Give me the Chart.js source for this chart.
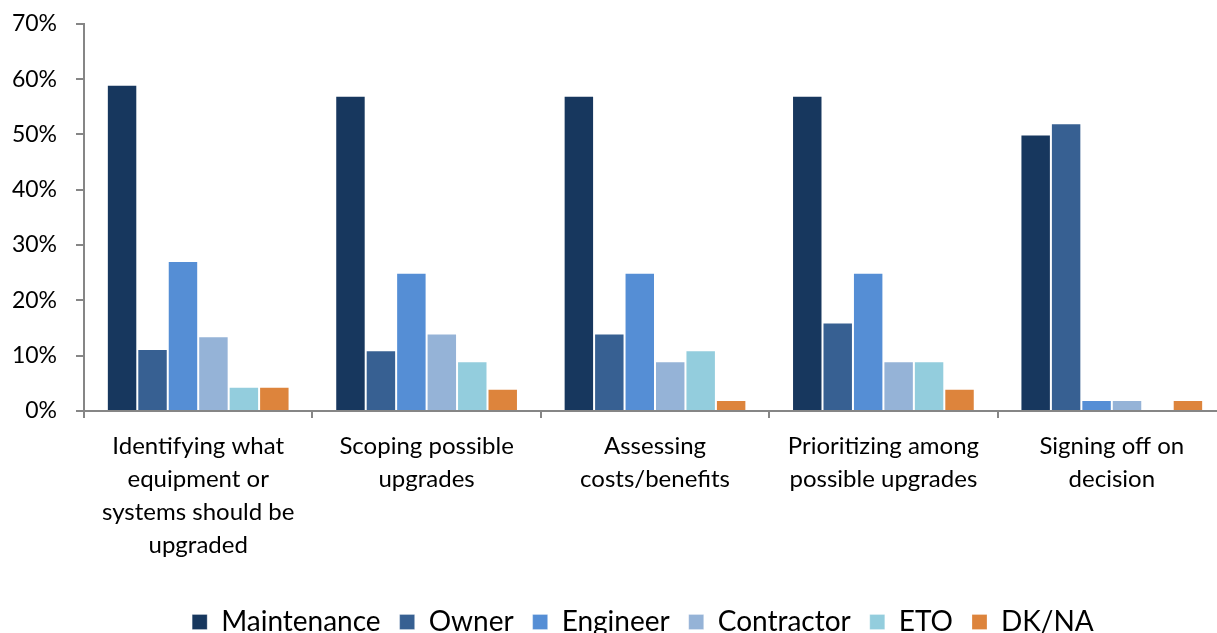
<!DOCTYPE html>
<html>
<head>
<meta charset="utf-8">
<script src="https://cdn.jsdelivr.net/npm/chart.js"></script>
<style>
  html, body { margin: 0; padding: 0; background: #fff; overflow: hidden; }
  #wrap { width: 1286px; height: 655px; margin-top: -9px; }
</style>
</head>
<body>
<div id="wrap"><canvas id="roles-chart" width="1286" height="655"></canvas></div>
<script>
// Decision stages (multi-line labels)
const stages = [
    ['Identifying what', 'equipment or', 'systems should be', 'upgraded'],
    ['Scoping possible', 'upgrades'],
    ['Assessing', 'costs/benefits'],
    ['Prioritizing among', 'possible upgrades'],
    ['Signing off on', 'decision']
];

// Share of respondents naming each role (%)
const maintenance = [59, 57, 57, 57, 50];
const owner       = [11.2, 11, 14, 16, 52];
const engineer    = [27.1, 25, 25, 25, 2];
const contractor  = [13.5, 14, 9, 9, 2];
const eto         = [4.4, 9, 11, 9, 0];
const dkna        = [4.4, 4, 2, 4, 2];

const yTicks = [0, 10, 20, 30, 40, 50, 60, 70];

const roles = [
    { label: 'Maintenance', data: maintenance, color: '#17375e' },
    { label: 'Owner',       data: owner,       color: '#376092' },
    { label: 'Engineer',    data: engineer,    color: '#558ed5' },
    { label: 'Contractor',  data: contractor,  color: '#95b3d7' },
    { label: 'ETO',         data: eto,         color: '#93cddd' },
    { label: 'DK/NA',       data: dkna,        color: '#dd843c' }
];

const FONT = "Lato, 'Open Sans', sans-serif";
const AXIS = '#868686';

new Chart(document.getElementById('roles-chart'), {
    type: 'bar',
    data: {
        labels: stages,
        datasets: roles.map(r => ({
            label: r.label,
            data: r.data,
            backgroundColor: r.color,
            borderColor: 'rgba(255,255,255,0.25)',
            borderWidth: 1,
            barPercentage: 1,
            categoryPercentage: 0.8
        }))
    },
    options: {
        responsive: false,
        animation: false,
        events: [],
        layout: { padding: { top: 2, right: 0, left: 0, bottom: 0 } },
        plugins: {
            tooltip: { enabled: false },
            legend: {
                position: 'bottom',
                labels: {
                    color: '#000',
                    font: { family: FONT, size: 28 },
                    boxWidth: 15,
                    boxHeight: 15,
                    padding: 19
                }
            }
        },
        scales: {
            y: {
                min: 0,
                max: 70,
                afterBuildTicks: function(scale) {
                    scale.ticks = yTicks.map(v => ({ value: v }));
                },
                afterFit: function(scale) { scale.width = 84; },
                ticks: {
                    color: '#000',
                    font: { family: FONT, size: 23 },
                    padding: 19,
                    callback: v => v + '%'
                },
                border: { color: AXIS, width: 2 },
                grid: {
                    drawOnChartArea: false,
                    drawTicks: true,
                    tickLength: 8,
                    color: AXIS,
                    lineWidth: 2
                }
            },
            // empty right-hand gutter so the plot ends before the legend's centre line
            gutter: {
                type: 'linear',
                position: 'right',
                afterFit: function(scale) { scale.width = 60; },
                ticks: { display: false },
                border: { display: false },
                grid: { display: false }
            },
            x: {
                afterFit: function(scale) { scale.height = 178; },
                ticks: {
                    color: '#000',
                    font: { family: FONT, size: 24, lineHeight: 1.375 },
                    padding: 12,
                    maxRotation: 0,
                    autoSkip: false
                },
                border: { color: AXIS, width: 2 },
                grid: {
                    offset: true,
                    drawOnChartArea: false,
                    drawTicks: true,
                    tickLength: 7,
                    color: AXIS,
                    lineWidth: 2
                }
            }
        }
    }
});
</script>
</body>
</html>
